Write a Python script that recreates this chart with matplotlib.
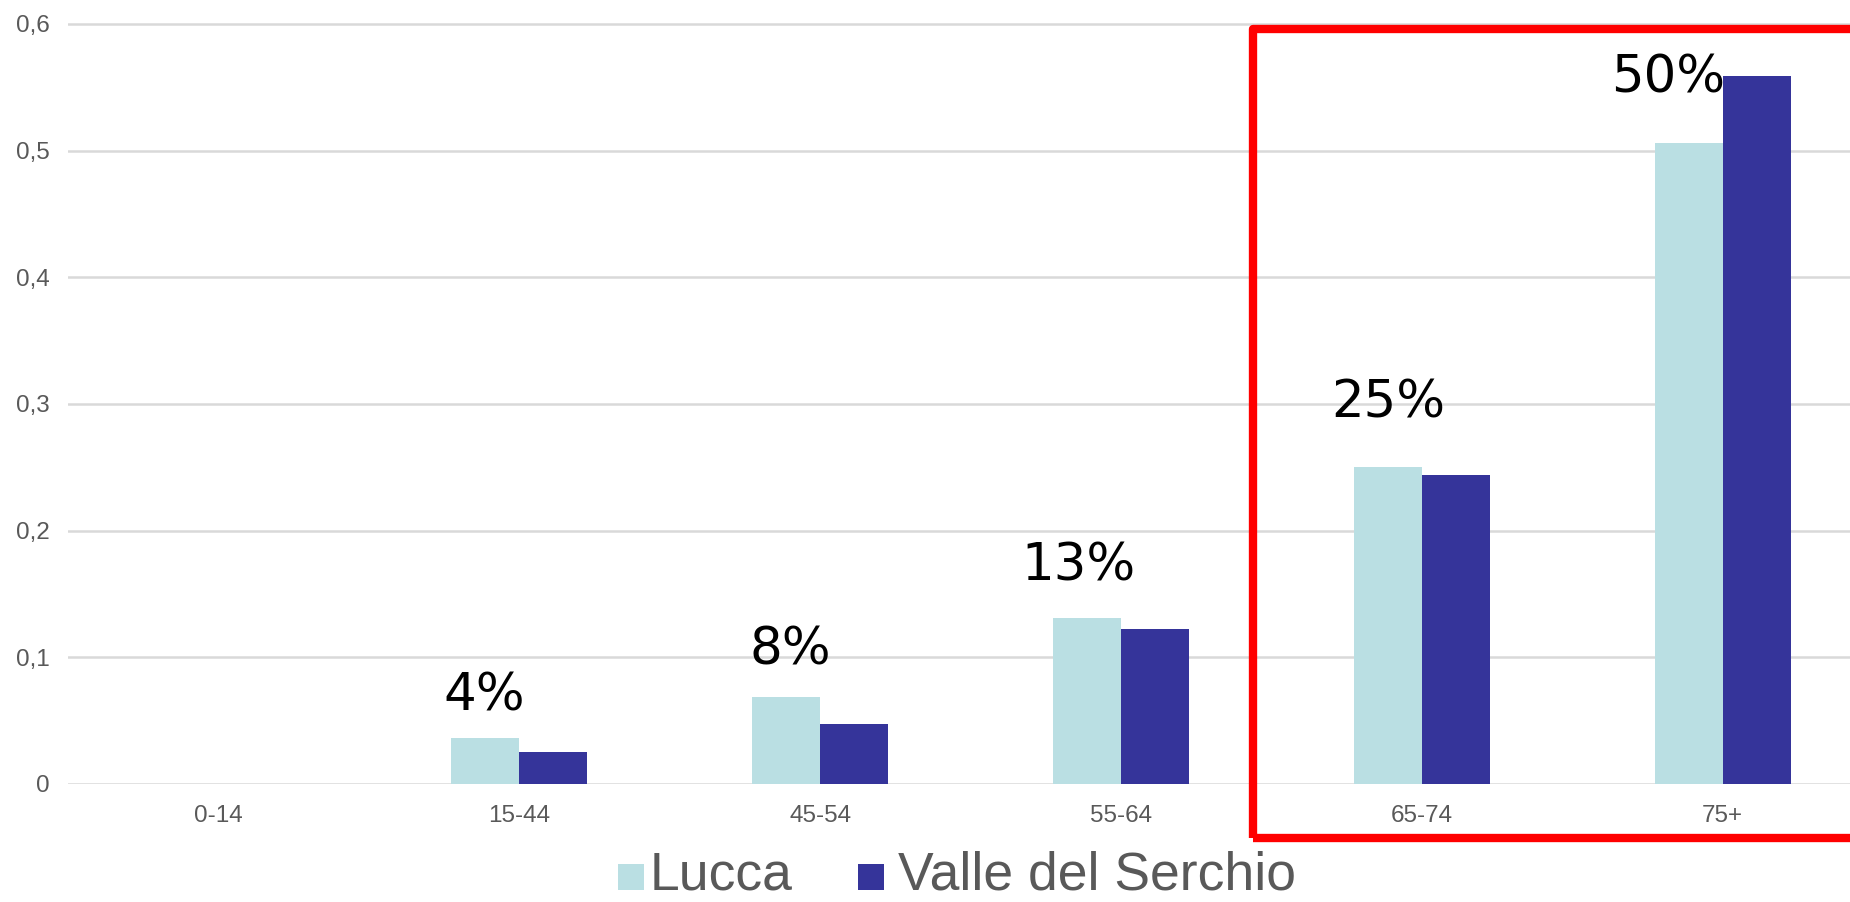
import numpy as np
import matplotlib.pyplot as plt
from matplotlib.patches import Rectangle

# data
age_groups = ['0-14', '15-44', '45-54', '55-64', '65-74', '75+']
lucca = [0.0, 0.036, 0.069, 0.131, 0.250, 0.506]
valle = [0.0, 0.025, 0.047, 0.122, 0.244, 0.559]
pct_labels = ['', '4%', '8%', '13%', '25%', '50%']
series_names = ['Lucca', 'Valle del Serchio']

c_light = '#BADFE3'
c_dark = '#35349A'
c_grey = '#595959'

W, H = 1850, 902
fig = plt.figure(figsize=(W / 100, H / 100), dpi=100)

# axes placed in pixels: zero line at y=784, 0.1 step = 126.7 px, x from 68 to 1873
y_top = 0.605
ax_left = 68 / W
ax_bottom = (H - 784) / H
ax_w = (1873 - 68) / W
ax_h = (126.7 * y_top * 10) / H
ax = fig.add_axes([ax_left, ax_bottom, ax_w, ax_h])

x = np.arange(len(age_groups))
w = 0.226
ax.bar(x - w / 2, lucca, width=w, color=c_light, zorder=3)
ax.bar(x + w / 2, valle, width=w, color=c_dark, zorder=3)

ax.set_xlim(-0.5, len(age_groups) - 0.5)
ax.set_ylim(0, y_top)
ax.set_yticks([0, 0.1, 0.2, 0.3, 0.4, 0.5, 0.6])
ax.set_yticklabels(['0', '0,1', '0,2', '0,3', '0,4', '0,5', '0,6'])
ax.set_xticks(x)
ax.set_xticklabels(age_groups)
for s in ax.spines.values():
	s.set_visible(False)
ax.tick_params(axis='both', length=0, labelsize=17.5, labelcolor=c_grey)
ax.tick_params(axis='y', pad=13)
ax.tick_params(axis='x', pad=15)
for t in ax.get_xticklabels() + ax.get_yticklabels():
	t.set_family('Liberation Sans')
ax.grid(True, axis='y', color='#D9D9D9', linewidth=1.8, zorder=0)
ax.set_axisbelow(True)

# percentage labels, nudged left of the group centre like the original
lab_dx = [0, -0.115, -0.10, -0.14, -0.11, -0.18]
lab_y = [0, 0.058, 0.094, 0.161, 0.289, 0.546]
for i, txt in enumerate(pct_labels):
	if txt:
		ax.text(x[i] + lab_dx[i], lab_y[i], txt, ha='center', va='baseline',
				fontsize=37, family='DejaVu Sans', color='black', zorder=5)

# red highlight box (figure pixels)
box = Rectangle((1253 / W, (H - 838) / H), (1870 - 1253) / W, (838 - 29) / H,
				transform=fig.transFigure, fill=False, edgecolor='#FF0000',
				linewidth=6, joinstyle='round', clip_on=False)
fig.patches.append(box)

# legend drawn by hand: square + label, baseline on the square's bottom edge
leg_items = [(618, c_light, 650), (858, c_dark, 898)]	# square left, colour, text left (px)
sq = 26
base = 890
for (sx, col, tx), name in zip(leg_items, series_names):
	fig.patches.append(Rectangle((sx / W, (H - base) / H), sq / W, sq / H,
								 transform=fig.transFigure, facecolor=col,
								 edgecolor='none'))
	fig.text(tx / W, (H - base) / H, name, ha='left', va='baseline',
			 family='Liberation Sans', fontsize=38.5, color=c_grey)

plt.savefig('out.png', dpi=100)
plt.close()
